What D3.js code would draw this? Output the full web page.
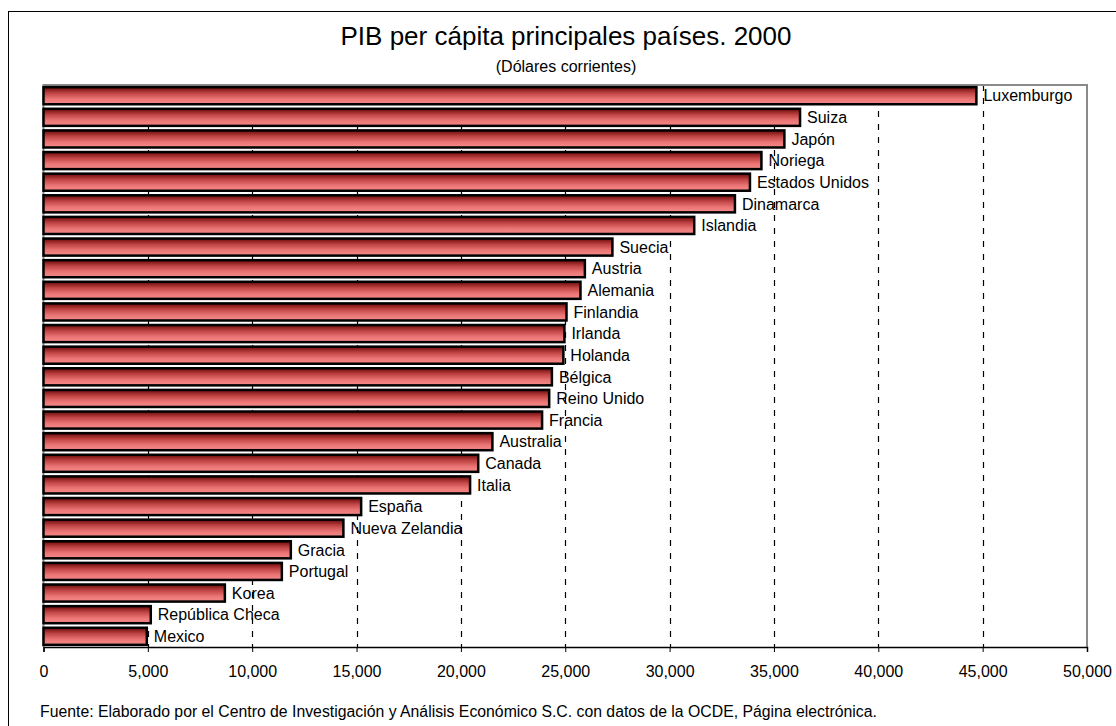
<!DOCTYPE html>
<html>
<head>
<meta charset="utf-8">
<script src="https://cdn.jsdelivr.net/npm/d3@7"></script>
<style>
  html, body { margin: 0; padding: 0; background: #fff; }
  svg { display: block; font-family: "Liberation Sans", Arial, sans-serif; }
</style>
</head>
<body>
<svg id="chart" width="1116" height="726"></svg>
<script>
const countries = ["Luxemburgo","Suiza","Japón","Noriega","Estados Unidos","Dinamarca","Islandia","Suecia","Austria","Alemania","Finlandia","Irlanda","Holanda","Bélgica","Reino Unido","Francia","Australia","Canada","Italia","España","Nueva Zelandia","Gracia","Portugal","Korea","República Checa","Mexico"];
const values = [44700,36250,35500,34400,33850,33130,31180,27260,25940,25730,25060,24960,24910,24360,24230,23890,21510,20830,20440,15220,14370,11850,11420,8690,5140,4950];
const xTicks = [0,5000,10000,15000,20000,25000,30000,35000,40000,45000,50000];
const titleText = "PIB per cápita principales países. 2000";
const subtitleText = "(Dólares corrientes)";
const sourceText = "Fuente: Elaborado por el Centro de Investigación y Análisis Económico S.C. con datos de la OCDE, Página electrónica.";

const svg = d3.select("#chart");
const L = 43.5, R = 1087, T = 85, B = 647;

// outer frame
svg.append("rect").attr("x", 8.5).attr("y", 11.5).attr("width", 1130).attr("height", 740)
  .attr("fill", "none").attr("stroke", "#000").attr("stroke-width", 1);

const defs = svg.append("defs");
const grad = defs.append("linearGradient").attr("id", "barGrad")
  .attr("x1", 0).attr("y1", 0).attr("x2", 0).attr("y2", 1);
grad.append("stop").attr("offset", "0%").attr("stop-color", "#6a0808");
grad.append("stop").attr("offset", "35%").attr("stop-color", "#c04444");
grad.append("stop").attr("offset", "70%").attr("stop-color", "#ec7676");
grad.append("stop").attr("offset", "100%").attr("stop-color", "#f48a8a");

const x = d3.scaleLinear().domain([0, 50000]).range([L, R]);
const y = d3.scaleBand().domain(countries).range([T, B]).paddingInner(0.21).paddingOuter(0.1);

// gridlines
svg.append("g").selectAll("line").data(xTicks.filter(d => d > 0 && d < 50000)).join("line")
  .attr("x1", d => Math.round(x(d)) + 0.5).attr("x2", d => Math.round(x(d)) + 0.5)
  .attr("y1", T).attr("y2", B)
  .attr("stroke", "#000").attr("stroke-width", 1.2).attr("stroke-dasharray", "6,7");

// plot border (grey)
svg.append("path")
  .attr("d", `M${L},${B} L${L},${T} L${R},${T} L${R},${B}`)
  .attr("fill", "none").attr("stroke", "#8a8a8a").attr("stroke-width", 2);

// bars
const data = countries.map((c, i) => ({ c, v: values[i] }));
svg.append("g").selectAll("rect").data(data).join("rect")
  .attr("x", x(0)).attr("y", d => y(d.c))
  .attr("width", d => x(d.v) - x(0)).attr("height", y.bandwidth())
  .attr("fill", "url(#barGrad)").attr("stroke", "#000").attr("stroke-width", 2.5);

// labels
svg.append("g").selectAll("text").data(data).join("text")
  .attr("x", d => x(d.v) + 7).attr("y", d => y(d.c) + y.bandwidth() / 2)
  .attr("dy", "0.36em").attr("font-size", 16).attr("fill", "#000")
  .text(d => d.c);

// x axis
const axis = d3.axisBottom(x).tickValues(xTicks).tickSize(5).tickPadding(14)
  .tickFormat(d3.format(","));
const gx = svg.append("g").attr("transform", `translate(0,${B})`).call(axis);
gx.select(".domain").attr("stroke", "#000").attr("stroke-width", 1.5);
gx.selectAll(".tick line").attr("stroke", "#000").attr("stroke-width", 1);
gx.selectAll(".tick text").attr("font-size", 16).attr("fill", "#000")
  .attr("font-family", "Liberation Sans, Arial, sans-serif");

// titles
svg.append("text").attr("x", 566).attr("y", 45).attr("text-anchor", "middle")
  .attr("font-size", 26).attr("fill", "#000").text(titleText);
svg.append("text").attr("x", 566).attr("y", 72).attr("text-anchor", "middle")
  .attr("font-size", 16).attr("fill", "#000").text(subtitleText);

// source
svg.append("text").attr("x", 40).attr("y", 717)
  .attr("font-size", 15.8).attr("fill", "#000").text(sourceText);
</script>
</body>
</html>
